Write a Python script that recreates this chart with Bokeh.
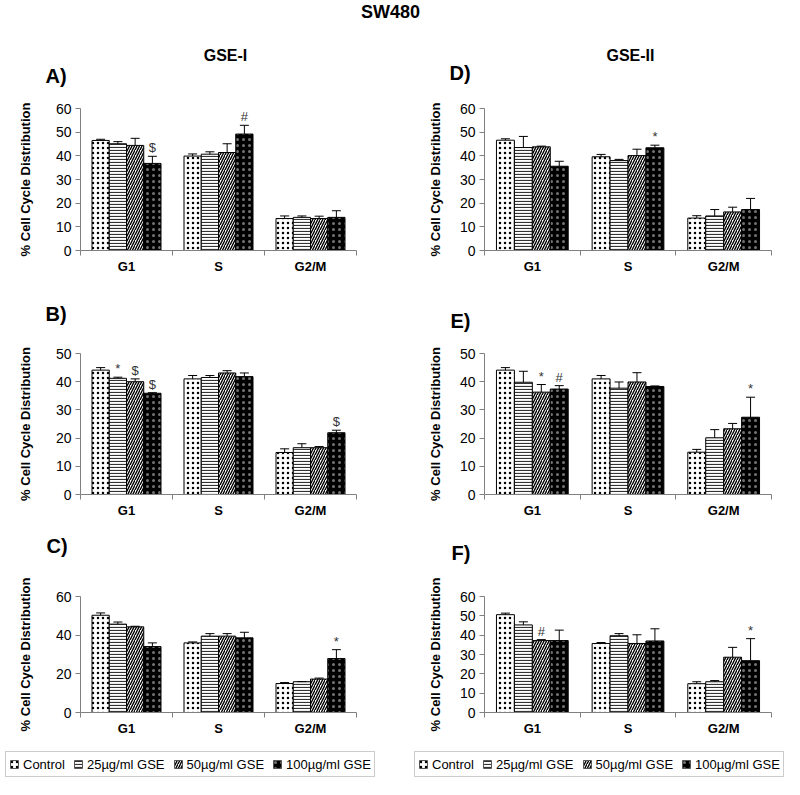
from bokeh.plotting import figure
from bokeh.models import (FixedTicker, ColumnDataSource, Whisker, TeeHead,
                          Legend, LegendItem)
from bokeh.layouts import column, row
from bokeh.embed import file_html
from bokeh.resources import INLINE
from bokeh.core.properties import value

FONT = "Liberation Sans"

phases = ["G1", "S", "G2/M"]
treatments = ["Control", "25µg/ml GSE", "50µg/ml GSE", "100µg/ml GSE"]

# means and errors: one list per treatment, values per phase (G1, S, G2/M)
A_mean = [[46.5, 39.9, 13.5], [45.1, 40.7, 14.0], [44.4, 41.4, 13.5], [36.8, 49.2, 14.0]]
A_err = [[0.5, 0.9, 1.1], [0.9, 1.0, 0.6], [3.0, 3.7, 1.0], [3.0, 3.7, 2.8]]
A_marks = [(0, 3, "$"), (1, 3, "#")]

B_mean = [[44.1, 41.0, 14.9], [41.2, 41.5, 16.6], [40.0, 43.1, 16.6], [35.9, 41.8, 21.9]]
B_err = [[0.9, 1.2, 1.3], [0.4, 0.7, 1.4], [1.0, 0.8, 0.4], [0.2, 1.3, 0.9]]
B_marks = [(0, 1, "*"), (0, 2, "$"), (0, 3, "$"), (2, 3, "$")]

C_mean = [[50.3, 36.0, 15.0], [45.7, 39.5, 15.9], [44.3, 39.5, 17.3], [34.1, 38.6, 27.9]]
C_err = [[1.2, 0.5, 0.5], [1.1, 1.3, 0.1], [0.3, 1.3, 0.5], [1.9, 2.9, 4.6]]
C_marks = [(2, 3, "*")]

D_mean = [[46.6, 39.6, 13.7], [43.5, 38.0, 14.6], [43.8, 40.1, 16.3], [35.6, 43.4, 17.3]]
D_err = [[0.6, 1.0, 1.0], [4.7, 0.5, 2.7], [0.3, 2.7, 2.0], [2.1, 1.1, 4.7]]
D_marks = [(1, 3, "*")]

E_mean = [[44.1, 41.0, 15.0], [39.8, 37.7, 20.1], [36.3, 39.9, 23.3], [37.4, 38.3, 27.4]]
E_err = [[0.9, 1.2, 1.0], [3.9, 2.2, 2.9], [2.7, 3.3, 1.9], [1.2, 0.2, 7.1]]
E_marks = [(0, 2, "*"), (0, 3, "#"), (2, 3, "*")]

F_mean = [[50.6, 35.7, 14.9], [45.3, 39.7, 15.9], [37.2, 35.7, 28.6], [37.2, 37.0, 26.8]]
F_err = [[0.8, 0.5, 1.0], [1.6, 1.1, 0.6], [0.5, 4.5, 5.1], [5.4, 6.3, 11.4]]
F_marks = [(0, 2, "#"), (2, 3, "*")]

BAR_W = 0.1875
AXIS_COLOR = "#808080"

STYLES = [
    dict(fill_color="white", hatch_pattern="dot", hatch_color="black",
         hatch_scale=5, hatch_weight=8),
    dict(fill_color="white", hatch_pattern="horizontal_line", hatch_color="#333333",
         hatch_scale=3, hatch_weight=1.2),
    dict(fill_color="white", hatch_pattern="right_diagonal_line", hatch_color="black",
         hatch_scale=5, hatch_weight=1.4),
    dict(fill_color="black", hatch_pattern="dot", hatch_color="white",
         hatch_scale=6, hatch_weight=0.6, hatch_alpha=0.45),
]


def xpos(i, j):
    return i + 0.5 + (j - 1.5) * BAR_W


def make_panel(mean, err, marks, ymax, ystep, height, top, bottom, left, right,
               label_standoff):
    p = figure(width=392, height=height, x_range=(0, 3), y_range=(0, ymax),
               output_backend="svg", toolbar_location=None,
               min_border_top=top, min_border_bottom=bottom,
               min_border_left=left, min_border_right=right)
    p.outline_line_color = None
    p.grid.visible = False

    for j in range(4):
        xs = [xpos(i, j) for i in range(3)]
        src = ColumnDataSource(dict(x=xs, top=mean[j],
                                    upper=[m + e for m, e in zip(mean[j], err[j])]))
        p.vbar(x="x", top="top", bottom=0, width=BAR_W, source=src,
               line_color="black", line_width=1, **STYLES[j])
        p.add_layout(Whisker(source=src, base="x", lower="top", upper="upper",
                             line_color="black", line_width=1,
                             upper_head=TeeHead(size=9, line_color="black", line_width=1),
                             lower_head=None, level="overlay"))

    mx = [xpos(i, j) for i, j, _ in marks]
    my = [mean[j][i] + err[j][i] for i, j, _ in marks]
    mt = [s for _, _, s in marks]
    p.text(x=mx, y=my, text=mt, text_align="center", text_baseline="bottom",
           y_offset=-1, text_font=value(FONT), text_font_size="13px", text_color="#333333")

    xa = p.xaxis[0]
    xa.ticker = FixedTicker(ticks=[0.5, 1.5, 2.5], minor_ticks=[0, 1, 2, 3])
    xa.major_label_overrides = {0.5: phases[0], 1.5: phases[1], 2.5: phases[2]}
    xa.major_tick_line_color = None
    xa.major_tick_out = 0
    xa.major_tick_in = 0
    xa.minor_tick_out = 5
    xa.minor_tick_in = 0
    xa.minor_tick_line_color = AXIS_COLOR
    xa.axis_line_color = AXIS_COLOR
    xa.major_label_text_font = FONT
    xa.major_label_text_font_style = "bold"
    xa.major_label_text_font_size = "13px"
    xa.major_label_text_color = "black"
    xa.major_label_standoff = 3

    ya = p.yaxis[0]
    ya.ticker = FixedTicker(ticks=list(range(0, ymax + 1, ystep)))
    ya.minor_tick_line_color = None
    ya.major_tick_out = 5
    ya.major_tick_in = 0
    ya.major_tick_line_color = AXIS_COLOR
    ya.axis_line_color = AXIS_COLOR
    ya.major_label_text_font = FONT
    ya.major_label_text_font_size = "14px"
    ya.major_label_text_color = "black"
    ya.major_label_standoff = 4
    ya.axis_label = "% Cell Cycle Distribution"
    ya.axis_label_text_font = FONT
    ya.axis_label_text_font_style = "bold"
    ya.axis_label_text_font_size = "13px"
    ya.axis_label_text_color = "black"
    ya.axis_label_standoff = label_standoff
    return p


def make_header(height, labels):
    p = figure(width=784, height=height, x_range=(0, 784), y_range=(height, 0),
               output_backend="svg", toolbar_location=None, min_border=0)
    p.axis.visible = False
    p.grid.visible = False
    p.outline_line_color = None
    for txt, x, y, size, align in labels:
        p.text(x=[x], y=[y], text=[txt], text_align=align, text_baseline="middle",
               text_font=value(FONT), text_font_size=size, text_font_style="bold",
               text_color="black")
    return p


def make_footer(height, legend_lefts, legend_top):
    p = figure(width=784, height=height, x_range=(0, 784), y_range=(height, 0),
               output_backend="svg", toolbar_location=None, min_border=0)
    p.axis.visible = False
    p.grid.visible = False
    p.outline_line_color = None
    for lx in legend_lefts:
        # zero-size proxies (hidden under the legend box) that carry the bar styles
        items = []
        for j in range(4):
            r = p.vbar(x=[lx + 20], top=[legend_top + 10], bottom=[legend_top + 10],
                       width=0, line_color="#555555", line_width=1, fill_alpha=1,
                       **STYLES[j])
            items.append(LegendItem(label=treatments[j], renderers=[r]))
        leg = Legend(items=items, orientation="horizontal",
                     location=(lx, height - legend_top - 24),
                     label_text_font=FONT, label_text_font_size="13px",
                     label_text_color="black", glyph_width=10, glyph_height=10,
                     label_height=18, label_standoff=4, spacing=8, padding=3, margin=0,
                     border_line_color="#999999", border_line_width=1,
                     background_fill_color="white", background_fill_alpha=1)
        p.add_layout(leg)
    return p


header0 = make_header(100, [("SW480", 390, 11, "18px", "center"),
                            ("GSE-I", 225, 55, "16px", "center"),
                            ("GSE-II", 630, 55, "16px", "center"),
                            ("A)", 45, 75, "20px", "left"),
                            ("D)", 449, 72, "20px", "left")])
header1 = make_header(69, [("B)", 45, 37, "20px", "left"),
                           ("E)", 450, 44, "20px", "left")])
header2 = make_header(45, [("C)", 46, 25, "20px", "left"),
                           ("F)", 451, 32, "20px", "left")])
footer = make_footer(41, [5, 414], 15)

LEFT_L, LEFT_R, RIGHT_L, RIGHT_R = 80, 36, 92, 13

pA = make_panel(A_mean, A_err, A_marks, 60, 10, 176, 8, 25, LEFT_L, LEFT_R, 20)
pD = make_panel(D_mean, D_err, D_marks, 60, 10, 176, 8, 25, RIGHT_L, RIGHT_R, 14)
pB = make_panel(B_mean, B_err, B_marks, 50, 10, 175, 8, 24, LEFT_L, LEFT_R, 20)
pE = make_panel(E_mean, E_err, E_marks, 50, 10, 175, 8, 24, RIGHT_L, RIGHT_R, 14)
pC = make_panel(C_mean, C_err, C_marks, 60, 20, 173, 31, 25, LEFT_L, LEFT_R, 20)
pF = make_panel(F_mean, F_err, F_marks, 60, 10, 173, 31, 25, RIGHT_L, RIGHT_R, 14)

layout = column(header0, row(pA, pD), header1, row(pB, pE), header2, row(pC, pF), footer)

open("out.html", "w").write(file_html(layout, INLINE))
